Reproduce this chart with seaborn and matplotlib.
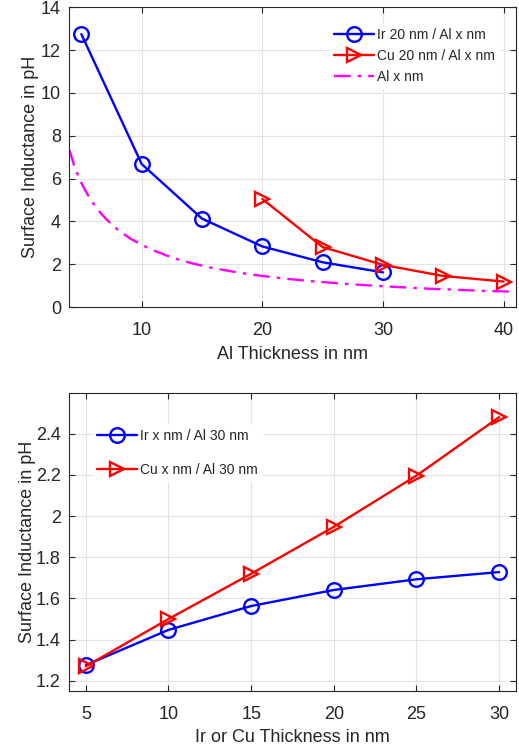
import numpy as np
import pandas as pd
import matplotlib
matplotlib.use("Agg")
import matplotlib.pyplot as plt
import seaborn as sns

# ---- data ----
al_thick = [5, 10, 15, 20, 25, 30]
ir20_al = [12.75, 6.68, 4.13, 2.83, 2.09, 1.62]
cu_al_thick = [20, 25, 30, 35, 40]
cu20_al = [5.05, 2.8, 1.97, 1.45, 1.19]
al_only_x = [4, 4.5, 5, 5.5, 6, 6.5, 7, 7.5, 8, 9, 10, 11, 12, 13, 14, 15, 16, 18,
             20, 22, 24, 26, 28, 30, 32, 34, 36, 38, 40, 41]
al_only_y = [7.35, 6.45, 5.8, 5.27, 4.83, 4.46, 4.14, 3.87, 3.62, 3.22, 2.9, 2.64,
             2.42, 2.23, 2.07, 1.93, 1.81, 1.61, 1.45, 1.32, 1.21, 1.12, 1.04, 0.97,
             0.91, 0.85, 0.81, 0.76, 0.73, 0.71]

metal_thick = [5, 10, 15, 20, 25, 30]
ir_al30 = [1.276, 1.447, 1.563, 1.641, 1.693, 1.728]
cu_al30 = [1.27, 1.50, 1.72, 1.948, 2.197, 2.481]

top_xticks = [10, 20, 30, 40]
top_yticks = [0, 2, 4, 6, 8, 10, 12, 14]
bot_xticks = [5, 10, 15, 20, 25, 30]
bot_yticks = [1.2, 1.4, 1.6, 1.8, 2.0, 2.2, 2.4]
bot_yticklabels = ["1.2", "1.4", "1.6", "1.8", "2", "2.2", "2.4"]

sns.set_theme(style="white")
plt.rcParams['font.family'] = ['Liberation Sans', 'DejaVu Sans']

fig = plt.figure(figsize=(5.19, 7.51), dpi=100)
ax1 = fig.add_axes([0.1335, 0.5912, 0.860, 0.399])
ax2 = fig.add_axes([0.1335, 0.0799, 0.860, 0.3972])

mk = dict(markersize=10.5, markerfacecolor='none', markeredgewidth=1.7, linewidth=1.7)

sns.lineplot(x=al_thick, y=ir20_al, ax=ax1, color='#0000ff', marker='o',
             markeredgecolor='#0000ff', label='Ir 20 nm / Al x nm', **mk)
sns.lineplot(x=cu_al_thick, y=cu20_al, ax=ax1, color='#ff0000', marker='>',
             markeredgecolor='#ff0000', label='Cu 20 nm / Al x nm', **mk)
sns.lineplot(x=al_only_x, y=al_only_y, ax=ax1, color='#ff00ff', linestyle='-.',
             linewidth=1.7, label='Al x nm', dashes=None)
ax1.lines[-1].set_dashes([7, 3, 1.5, 3])

sns.lineplot(x=metal_thick, y=ir_al30, ax=ax2, color='#0000ff', marker='o',
             markeredgecolor='#0000ff', label='Ir x nm / Al 30 nm', **mk)
sns.lineplot(x=metal_thick, y=cu_al30, ax=ax2, color='#ff0000', marker='>',
             markeredgecolor='#ff0000', label='Cu x nm / Al 30 nm', **mk)

ax1.set_xlim(4, 41)
ax1.set_ylim(0, 14)
ax1.set_xticks(top_xticks)
ax1.set_yticks(top_yticks)
ax1.set_xlabel('Al Thickness in nm', fontsize=13, color='#262626', labelpad=5)
ax1.set_ylabel('Surface Inductance in pH', fontsize=13, color='#262626', labelpad=1)

ax2.set_xlim(4, 31)
ax2.set_ylim(1.15, 2.6)
ax2.set_xticks(bot_xticks)
ax2.set_yticks(bot_yticks)
ax2.set_yticklabels(bot_yticklabels)
ax2.set_xlabel('Ir or Cu Thickness in nm', fontsize=13, color='#262626', labelpad=4)
ax2.set_ylabel('Surface Inductance in pH', fontsize=13, color='#262626', labelpad=0)

for ax in (ax1, ax2):
    ax.grid(True, color='#e3e3e3', linewidth=0.8)
    ax.set_axisbelow(True)
    for s in ax.spines.values():
        s.set_color('#262626')
        s.set_linewidth(0.8)
    ax.tick_params(direction='in', length=4, width=0.8, top=True, right=True,
                   bottom=True, left=True, labelsize=13, colors='#262626',
                   labelcolor='#262626')
    ax.tick_params(axis='x', pad=11)
    ax.tick_params(axis='y', pad=6)

leg1 = ax1.legend(loc='upper right', fontsize=10, frameon=True, facecolor='white',
                  edgecolor='white', framealpha=1, handlelength=2.9,
                  labelspacing=0.5, handletextpad=0.2, borderaxespad=1.2,
                  fancybox=False, borderpad=0.3)
leg2 = ax2.legend(loc='upper left', fontsize=10, frameon=True, facecolor='white',
                  edgecolor='white', framealpha=1, handlelength=2.9,
                  labelspacing=1.45, handletextpad=0.2, borderaxespad=2.0,
                  fancybox=False, borderpad=0.3, bbox_to_anchor=(-0.01, 0.985))

fig.savefig('out.png', dpi=100)
